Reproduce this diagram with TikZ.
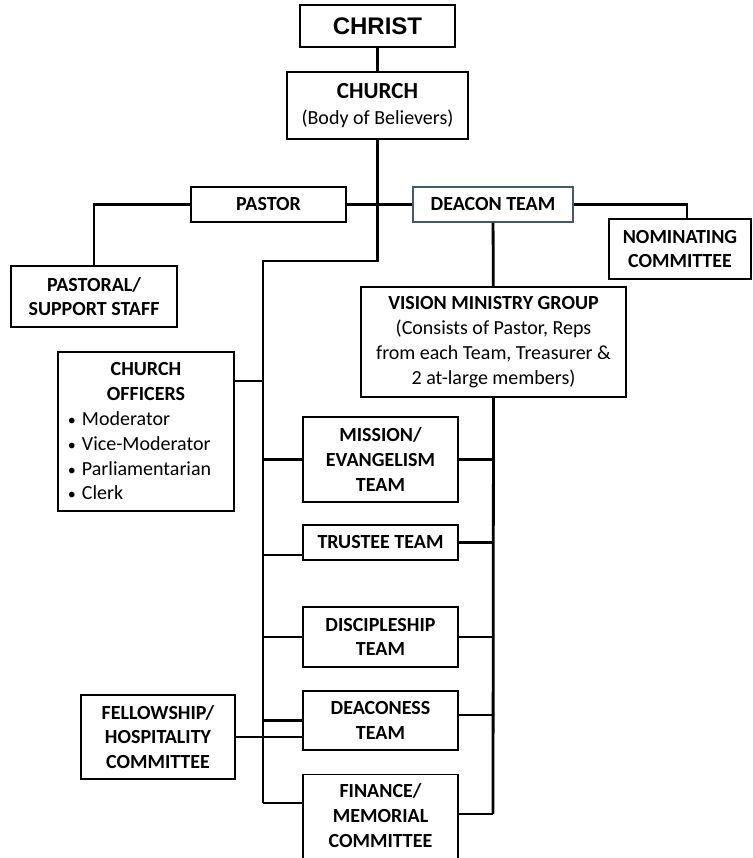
\documentclass[tikz,border=0pt]{standalone}
\RequirePackage{fontspec}
\setmainfont{Carlito}
\newfontfamily\christfont{Liberation Sans}
\RequirePackage{tikz}
\usetikzlibrary{calc}

\definecolor{slate}{RGB}{68,88,110}
\newcommand{\bul}{\makebox[7pt][l]{\footnotesize\textbullet}}

\begin{document}
\begin{tikzpicture}[x=0.5pt,y=-0.5pt,
                        box/.style={draw,line width=0.7pt,align=center,inner sep=0pt,
                            font=\bfseries\fontsize{10}{12.4}\selectfont},
                        link/.style={line width=1.4pt}]
                        \useasboundingbox (0,0) rectangle (752,858);
                        \node[box,minimum width=77.5pt,minimum height=21pt,
                            font=\christfont\bfseries\fontsize{12}{14}\selectfont] (christ) at (377.5,26) {CHRIST};
                        \node[box,minimum width=90.5pt,minimum height=33.5pt,
                            font=\bfseries\fontsize{10}{13}\selectfont] (church) at (377.5,105.5)
                            {{\fontsize{11.5}{13}\selectfont CHURCH}\\\mdseries(Body of Believers)};
                        \node[box,minimum width=77.5pt,minimum height=17.5pt] (pastor) at (268.5,204.5) {PASTOR};
                        \node[box,draw=slate,minimum width=80pt,minimum height=17.5pt] (deacon) at (493,204.5) {DEACON TEAM};
                        \node[box,minimum width=83pt,minimum height=30.5pt] (staff) at (94,296.5) {PASTORAL/\\SUPPORT STAFF};
                        \node[box,minimum width=71pt,minimum height=30pt] (nominating) at (680,249) {NOMINATING\\COMMITTEE};
                        \node[box,minimum width=132.5pt,minimum height=55pt] (vmg) at (493.5,342)
                            {VISION MINISTRY GROUP\\\mdseries(Consists of Pastor, Reps\\\mdseries from each Team, Treasurer \&\\\mdseries 2 at-large members)};
                        \node[box,align=left,text width=78pt,inner xsep=5pt,minimum height=79.5pt] (officers) at (146,431.5)
                            {{\centering CHURCH\\OFFICERS\par}\mdseries
                            \bul Moderator\\\bul Vice-Moderator\\\bul Parliamentarian\\\bul Clerk};
                        \node[box,minimum width=77.5pt,minimum height=42.5pt] (mission) at (380.5,459.5) {MISSION/\\EVANGELISM\\TEAM};
                        \node[box,minimum width=77.5pt,minimum height=17.5pt] (trustee) at (380.5,542.5) {TRUSTEE TEAM};
                        \node[box,minimum width=77.5pt,minimum height=30pt] (disciple) at (380.5,637) {DISCIPLESHIP\\TEAM};
                        \node[box,minimum width=77.5pt,minimum height=29.5pt] (deaconess) at (380.5,720.5) {DEACONESS\\TEAM};
                        \node[box,anchor=north,minimum width=77.5pt,inner ysep=4.5pt,text depth=20pt] (finance) at (380.5,774)
                            {FINANCE/\\MEMORIAL\\COMMITTEE};
                        \node[box,minimum width=77pt,minimum height=42pt] (fellow) at (158,737) {FELLOWSHIP/\\HOSPITALITY\\COMMITTEE};
                        \coordinate (tl) at (263,261);
                        \coordinate (tb) at (263,803);
                        \coordinate (rb) at (493,814);
                        \draw[link] (christ) -- (church);
                        \draw[link] (church.south) |- (tl) -- (tb);
                        \draw[link] (pastor) -- (deacon);
                        \draw[link] (pastor.west) -| (staff.north);
                        \draw[link] (deacon.east) -| ([xshift=3.5pt]nominating.north);
                        \draw[link] (deacon) -- (vmg);
                        \draw[link] (vmg.south) -- (rb);
                        \draw[link] ([yshift=25.25pt]officers.east) -- ([yshift=25.25pt]officers.east -| tl);
                        \draw[link] (mission.west) -- (mission.west -| tl);
                        \draw[link] ([yshift=-6.25pt]trustee.west) -- ([yshift=-6.25pt]trustee.west -| tl);
                        \draw[link] (disciple.west) -- (disciple.west -| tl);
                        \draw[link] (deaconess.west) -- (deaconess.west -| tl);
                        \draw[link] (fellow.east) -- (fellow.east -| deaconess.west);
                        \draw[link] (tb) -- (tb -| finance.west);
                        \draw[link] (mission.east) -- (mission.east -| rb);
                        \draw[link] (trustee.east) -- (trustee.east -| rb);
                        \draw[link] (disciple.east) -- (disciple.east -| rb);
                        \draw[link] ([yshift=2.75pt]deaconess.east) -- ([yshift=2.75pt]deaconess.east -| rb);
                        \draw[link] (rb -| finance.east) -- (rb);
                    \end{tikzpicture}
\end{document}
